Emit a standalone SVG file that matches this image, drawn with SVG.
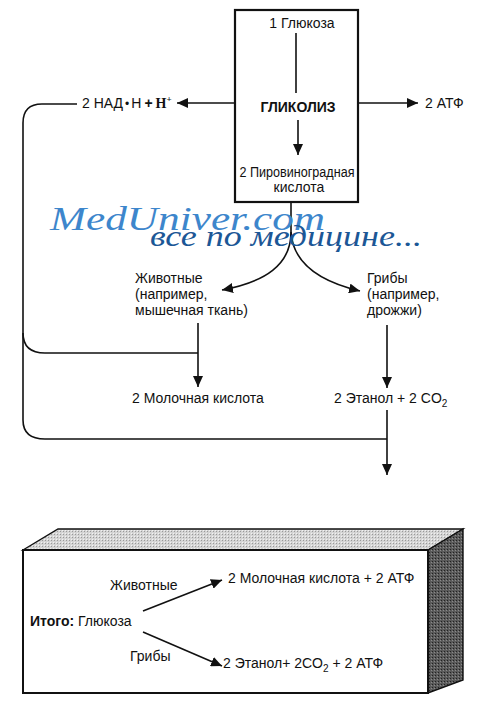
<svg xmlns="http://www.w3.org/2000/svg" width="490" height="705" viewBox="0 0 490 705">
<style>
text{font-family:"Liberation Sans",Arial,sans-serif;font-size:14px;fill:#111}
.b{font-weight:bold}
.ln{fill:none;stroke:#111;stroke-width:1.6}
.ar{fill:none;stroke:#111;stroke-width:1.6;marker-end:url(#ah)}
.wm1{font-family:"Liberation Serif","DejaVu Serif",serif;font-style:italic;font-size:34px;fill:#3d86cc}
.wm2{font-family:"Liberation Serif","DejaVu Serif",serif;font-style:italic;font-size:29px;fill:#1c5796}
</style>
<defs>
<marker id="ah" markerUnits="userSpaceOnUse" markerWidth="12" markerHeight="10" refX="11" refY="5" orient="auto">
<path d="M0,0 L11,5 L0,10 Z" fill="#111"/>
</marker>
<pattern id="dk" width="3" height="3" patternUnits="userSpaceOnUse">
<rect width="3" height="3" fill="#5a5a5a"/><rect x="0" y="0" width="1" height="1" fill="#222"/><rect x="2" y="1" width="1" height="1" fill="#8a8a8a"/>
</pattern>
<pattern id="lt" width="3" height="3" patternUnits="userSpaceOnUse">
<rect width="3" height="3" fill="#d4d4d4"/><rect x="0" y="0" width="1" height="1" fill="#999"/><rect x="2" y="2" width="1" height="1" fill="#f2f2f2"/>
</pattern>
</defs>
<rect width="490" height="705" fill="#fff"/>

<g id="glycolysis">
<rect x="235" y="10" width="123" height="192" fill="#fff" stroke="#111" stroke-width="2.2"/>
<text x="302" y="28" text-anchor="middle">1 Глюкоза</text>
<text class="b" x="298" y="112" text-anchor="middle" font-size="15">ГЛИКОЛИЗ</text>
<text x="297" y="177" text-anchor="middle" textLength="115" lengthAdjust="spacingAndGlyphs">2 Пировиноградная</text>
<text x="299" y="192" text-anchor="middle">кислота</text>
</g>

<g id="nadh">
<text x="82" y="108">2 НАД<tspan font-size="12" dx="2">•</tspan><tspan dx="2">Н</tspan><tspan class="b" dx="3">+</tspan><tspan font-family="Liberation Serif,serif" class="b" dx="3">H</tspan><tspan font-family="Liberation Serif,serif" class="b" font-size="9" dy="-6">+</tspan></text>
</g>
<g id="atp"><text x="425" y="108">2 АТФ</text></g>

<g id="animals">
<text x="135" y="283">Животные</text>
<text x="135" y="299">(например,</text>
<text x="135" y="315">мышечная ткань)</text>
</g>
<g id="fungi">
<text x="367" y="283">Грибы</text>
<text x="367" y="299">(например,</text>
<text x="367" y="315">дрожжи)</text>
</g>
<g id="lactate"><text x="132" y="403">2 Молочная кислота</text></g>
<g id="ethanol"><text x="334" y="403">2 Этанол + 2 CO<tspan font-size="10" dy="4">2</tspan></text></g>

<g id="connectors">
<line class="ln" x1="296" y1="33" x2="296" y2="93"/>
<line class="ar" x1="298" y1="120" x2="298" y2="155"/>
<line class="ar" x1="234" y1="103" x2="177" y2="103"/>
<line class="ar" x1="359" y1="103" x2="418" y2="103"/>
<path class="ln" d="M77,104 H42 Q23,104 23,123 V420 Q23,439 45,439 H387"/>
<path class="ln" d="M23,333 Q23,353 45,353 H198"/>
<line class="ar" x1="198" y1="323" x2="198" y2="387"/>
<line class="ar" x1="387" y1="325" x2="387" y2="388"/>
<line class="ar" x1="387" y1="410" x2="387" y2="475"/>
<path class="ln" d="M291,202 V232"/>
<path class="ar" d="M291,232 C291,265 265,282 222,290"/>
<path class="ar" d="M291,232 C293,265 322,282 360,291"/>
</g>

<g id="watermark">
<text class="wm1" x="50" y="230" textLength="275" lengthAdjust="spacingAndGlyphs">MedUniver.com</text>
<text class="wm2" x="150" y="246" textLength="272" lengthAdjust="spacingAndGlyphs">все по медицине...</text>
</g>

<g id="summary">
<polygon points="23,550 58,529 463,529 428,550" fill="url(#lt)" stroke="#111" stroke-width="1.4"/>
<polygon points="428,550 463,529 463,680 428,693" fill="url(#dk)" stroke="#111" stroke-width="1.4"/>
<rect x="23" y="550" width="405" height="143" fill="#fff" stroke="#111" stroke-width="2"/>
<text x="110" y="590">Животные</text>
<text x="228" y="583">2 Молочная кислота +  2 АТФ</text>
<text x="30" y="626"><tspan class="b">Итого:</tspan> Глюкоза</text>
<text x="130" y="661">Грибы</text>
<text x="223" y="668">2 Этанол+ 2CO<tspan font-size="10" dy="4">2</tspan><tspan dy="-4"> + 2 АТФ</tspan></text>
</g>
<g id="summary-connectors">
<line class="ar" x1="143" y1="611" x2="222" y2="580"/>
<line class="ar" x1="143" y1="632" x2="222" y2="666"/>
</g>
</svg>
